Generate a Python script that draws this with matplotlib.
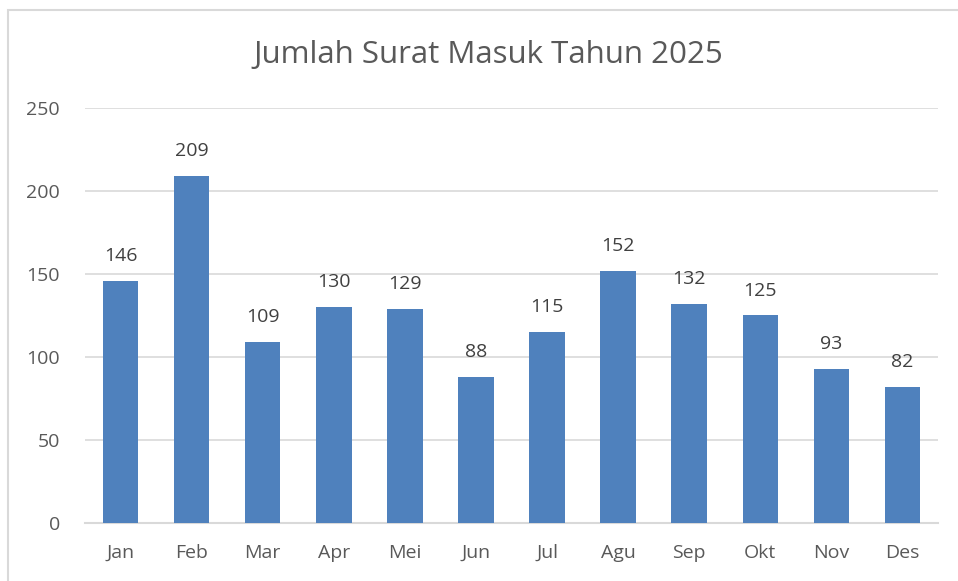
import matplotlib.pyplot as plt
from matplotlib.patches import Rectangle

months = ['Jan', 'Feb', 'Mar', 'Apr', 'Mei', 'Jun', 'Jul', 'Agu', 'Sep', 'Okt', 'Nov', 'Des']
surat_masuk = [146, 209, 109, 130, 129, 88, 115, 152, 132, 125, 93, 82]
y_ticks = [0, 50, 100, 150, 200, 250]

plt.rcParams['font.family'] = ['Open Sans', 'DejaVu Sans']

fig = plt.figure(figsize=(9.58, 5.81), dpi=100)
W, H = 958, 581

# chart border (screenshot crops it on right/bottom)
fig.patches.append(Rectangle((8 / W, -0.05), 1.05, 1 - 10 / H + 0.05, transform=fig.transFigure,
                             fill=False, edgecolor='#d9d9d9', linewidth=1.5))

ax = fig.add_axes([85 / W, 1 - 523 / H, (938 - 85) / W, (523 - 108) / H])
x = range(len(months))
bars = ax.bar(x, surat_masuk, width=0.5, color='#4f81bd', zorder=3)

for i, v in enumerate(surat_masuk):
    ax.text(i, v + 15, str(v), ha='center', va='center', fontsize=14, color='#404040')

ax.set_ylim(0, 250)
ax.set_xlim(-0.5, len(months) - 0.5)
ax.set_yticks(y_ticks)
ax.grid(axis='y', color='#d9d9d9', linewidth=1.2, zorder=0)
ax.set_xticks(list(x))
ax.set_xticklabels(months)
for s in ['top', 'right', 'left']:
    ax.spines[s].set_visible(False)
ax.spines['bottom'].set_color('#d9d9d9')
ax.spines['bottom'].set_linewidth(1.5)
ax.tick_params(axis='both', length=0, labelsize=14, colors='#595959')
ax.tick_params(axis='x', pad=15)
ax.tick_params(axis='y', pad=18)

fig.text(488 / W, 1 - 55 / H, 'Jumlah Surat Masuk Tahun 2025', ha='center', va='center',
         fontsize=22.5, color='#595959')

plt.savefig('out.png', dpi=100)
